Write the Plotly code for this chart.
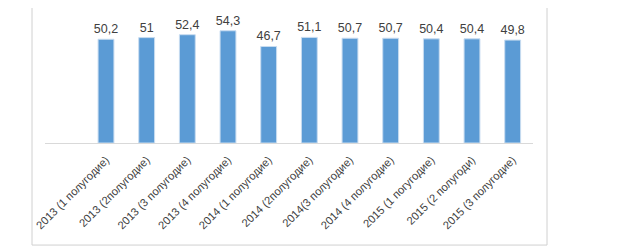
import plotly.graph_objects as go

categories = [
    "2013 (1 полугодие)", "2013 (2полугодие)", "2013 (3 полугодие)",
    "2013 (4 полугодие)", "2014 (1 полугодие)", "2014 (2полугодие)",
    "2014(3 полугодие)", "2014 (4 полугодие)", "2015 (1 погугодие)",
    "2015 (2 полугоди)", "2015 (3 полугодие)",
]
values = [50.2, 51, 52.4, 54.3, 46.7, 51.1, 50.7, 50.7, 50.4, 50.4, 49.8]
labels = [("%g" % v).replace(".", ",") for v in values]

fig = go.Figure(go.Bar(
    x=categories, y=values, text=labels, textposition="outside",
    textfont=dict(size=12.5, color="#404040"), constraintext="none",
    marker=dict(color="#5b9bd5", line=dict(color="#c8dcf0", width=1)),
    width=0.39, cliponaxis=False,
))

fig.update_layout(
    width=623, height=247,
    margin=dict(l=37, r=98, t=11, b=112, autoexpand=False),
    paper_bgcolor="white", plot_bgcolor="white",
    font=dict(family="Liberation Sans, Arial, sans-serif", color="#404040"),
    showlegend=False,
    xaxis=dict(type="category", range=[-1.5, 10.5], tickangle=-45,
               showline=True, linecolor="#d9d9d9", linewidth=1, automargin=False,
               ticklabelstandoff=5,
               showgrid=False, ticks="", tickfont=dict(size=11.2, color="#404040")),
    yaxis=dict(range=[0, 60], visible=False, automargin=False),
    shapes=[dict(type="rect", xref="paper", yref="paper",
                 x0=-0.0266, x1=1.0287, y0=-0.823, y1=1.113,
                 line=dict(color="#d0d0d0", width=1))],
)

fig.write_html("out.html")
